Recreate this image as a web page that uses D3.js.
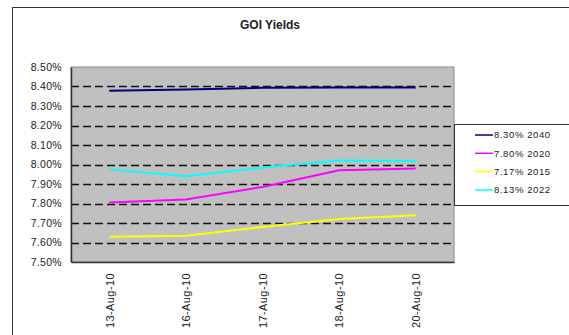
<!DOCTYPE html>
<html>
<head>
<meta charset="utf-8">
<script src="https://cdn.jsdelivr.net/npm/d3@7"></script>
<style>
  html, body { margin: 0; padding: 0; background: #fff; }
  svg { display: block; font-family: "Liberation Sans", Arial, sans-serif; }
</style>
</head>
<body>
<svg id="chart" width="569" height="335"></svg>
<script>
// Trade dates shown on the category axis
const dates = ["13-Aug-10", "16-Aug-10", "17-Aug-10", "18-Aug-10", "20-Aug-10"];

// Yield (%) of each government security on those dates
const gs2040 = [8.378, 8.385, 8.393, 8.395, 8.395];
const gs2020 = [7.805, 7.82, 7.885, 7.97, 7.98];
const gs2015 = [7.63, 7.635, 7.68, 7.72, 7.74];
const gs2022 = [7.975, 7.94, 7.985, 8.02, 8.018];

const seriesNames = ["8.30% 2040", "7.80% 2020", "7.17% 2015", "8.13% 2022"];
const seriesValues = [gs2040, gs2020, gs2015, gs2022];
const seriesColors = ["#000080", "#ff00ff", "#ffff00", "#00ffff"];

const yTicks = [7.5, 7.6, 7.7, 7.8, 7.9, 8.0, 8.1, 8.2, 8.3, 8.4, 8.5];

const svg = d3.select("#chart");

// Chart frame
svg.append("rect")
  .attr("x", 12.5).attr("y", 7.5)
  .attr("width", 700).attr("height", 500)
  .attr("fill", "#fff").attr("stroke", "#333").attr("stroke-width", 1);

svg.append("text")
  .attr("x", 270).attr("y", 29)
  .attr("text-anchor", "middle")
  .attr("font-size", 12).attr("font-weight", "bold")
  .attr("fill", "#222")
  .text("GOI Yields");

const plot = { left: 71, top: 67, right: 454, bottom: 262 };

const x = d3.scalePoint(dates, [plot.left, plot.right]).padding(0.5);
const y = d3.scaleLinear([7.5, 8.5], [plot.bottom, plot.top]);

// Plot area
svg.append("rect")
  .attr("x", plot.left).attr("y", plot.top)
  .attr("width", plot.right - plot.left).attr("height", plot.bottom - plot.top)
  .attr("fill", "#c0c0c0").attr("stroke", "#8a8a8a");

// Dashed gridlines
svg.append("g")
  .selectAll("line")
  .data(yTicks.filter(t => t > 7.5 && t < 8.5))
  .join("line")
  .attr("x1", plot.left).attr("x2", plot.right)
  .attr("y1", d => Math.round(y(d)) + 0.5).attr("y2", d => Math.round(y(d)) + 0.5)
  .attr("stroke", "#111").attr("stroke-width", 1.6)
  .attr("stroke-dasharray", "8,4");

// Value axis
const yAxis = svg.append("g")
  .attr("transform", `translate(${plot.left},0)`)
  .call(d3.axisLeft(y).tickValues(yTicks).tickSize(0).tickPadding(9)
    .tickFormat(d => d3.format(".2f")(d) + "%"));
yAxis.select(".domain").attr("stroke", "#333").attr("stroke-width", 1.5);
yAxis.selectAll("text")
  .attr("font-size", 10.5).attr("fill", "#222")
  .attr("font-family", "\"Liberation Sans\", Arial, sans-serif")
  .attr("letter-spacing", 0.3);

// Category axis
const xAxis = svg.append("g")
  .attr("transform", `translate(0,${plot.bottom})`)
  .call(d3.axisBottom(x).tickSize(0).tickPadding(0));
xAxis.select(".domain").attr("stroke", "#333").attr("stroke-width", 1.5);
xAxis.selectAll("text")
  .attr("font-size", 11).attr("fill", "#222")
  .attr("font-family", "\"Liberation Sans\", Arial, sans-serif")
  .attr("letter-spacing", 0.4)
  .attr("text-anchor", "end")
  .attr("transform", "translate(0,11) rotate(-90)")
  .attr("dx", 0).attr("dy", "0.35em").attr("y", 0);

// Series lines
const line = d3.line()
  .x((d, i) => x(dates[i]))
  .y(d => y(d));

svg.append("g")
  .selectAll("path")
  .data(seriesValues)
  .join("path")
  .attr("d", line)
  .attr("fill", "none")
  .attr("stroke", (d, i) => seriesColors[i])
  .attr("stroke-width", 2);

// Legend
const legend = svg.append("g");
legend.append("rect")
  .attr("x", 454.5).attr("y", 124.5)
  .attr("width", 200).attr("height", 81)
  .attr("fill", "#fff").attr("stroke", "#333");

const entry = legend.selectAll("g.entry")
  .data(seriesNames)
  .join("g")
  .attr("class", "entry")
  .attr("transform", (d, i) => `translate(0,${135 + i * 18.3})`);
entry.append("line")
  .attr("x1", 475).attr("x2", 493)
  .attr("stroke", (d, i) => seriesColors[i])
  .attr("stroke-width", 1.5);
entry.append("text")
  .attr("x", 494).attr("dy", "0.35em")
  .attr("font-size", 9.5).attr("fill", "#222")
  .attr("letter-spacing", 0.6)
  .text(d => d);
</script>
</body>
</html>
